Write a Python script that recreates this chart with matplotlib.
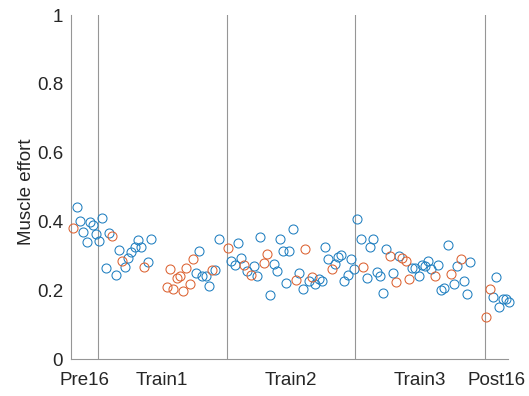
import matplotlib
matplotlib.use("Agg")
import matplotlib.pyplot as plt

# session names and boundaries (x in trial position units)
sessions = ["Pre16", "Train1", "Train2", "Train3", "Post16"]
bounds = [0, 26.7, 156, 284.5, 414.3, 437]

# blue series
blue_x = [5.7, 9, 12.3, 15.7, 19, 21.7, 25,
          28.3, 31.3, 35, 38, 44.7, 47.7, 54.3, 57.3, 60.3, 63.7, 67, 70, 76.7, 79.7,
          125, 128.3, 131, 134.7, 138, 144.3, 147.7,
          160.5, 163.7, 166.7, 170.3, 176.3, 183, 186.3, 189.3, 199, 202.7, 205.7, 209,
          212, 215.3, 218.3, 221.7, 228.3, 231.7, 238, 244.3, 247.7, 251, 254, 257.3,
          264, 267, 270.3, 273.3, 276.7, 280, 283,
          286.3, 289.7, 296, 299.3, 302.3, 305.7, 309, 312, 315.3, 321.7, 328.3, 341,
          344.3, 347.7, 350.7, 354, 357.3, 360.3, 367, 370.3, 373.3, 376.7, 383, 386.3,
          392.7, 396, 399.3,
          422, 425, 428.3, 431.7, 435, 438.3]
blue_y = [0.441, 0.402, 0.370, 0.339, 0.398, 0.390, 0.363,
          0.344, 0.410, 0.265, 0.367, 0.245, 0.318, 0.267, 0.294, 0.310, 0.325, 0.346, 0.325, 0.283, 0.349,
          0.251, 0.313, 0.240, 0.240, 0.213, 0.258, 0.349,
          0.286, 0.272, 0.338, 0.293, 0.256, 0.270, 0.240, 0.356, 0.185, 0.275, 0.257, 0.348,
          0.315, 0.220, 0.314, 0.379, 0.251, 0.203, 0.227, 0.219, 0.233, 0.228, 0.325, 0.292,
          0.276, 0.296, 0.303, 0.228, 0.243, 0.292, 0.262,
          0.406, 0.348, 0.235, 0.327, 0.349, 0.254, 0.240, 0.193, 0.320, 0.250, 0.299, 0.264,
          0.264, 0.240, 0.272, 0.271, 0.284, 0.261, 0.273, 0.201, 0.207, 0.332, 0.219, 0.271,
          0.228, 0.188, 0.282,
          0.181, 0.239, 0.152, 0.174, 0.175, 0.166]

# orange series
orange_x = [2.3, 41.3, 50.7, 73.3,
            95.7, 99, 102.3, 105.7, 109, 112, 115.3, 118.7, 121.7, 141,
            157.3, 173, 179.7, 192.7, 196, 225, 234.3, 241.3, 260.7,
            292.5, 318.7, 325, 331.3, 334.7, 338, 363.7, 380, 389.7,
            415.3, 418.7]
orange_y = [0.381, 0.358, 0.286, 0.268,
            0.209, 0.262, 0.204, 0.235, 0.242, 0.198, 0.265, 0.218, 0.292, 0.258,
            0.322, 0.273, 0.244, 0.278, 0.304, 0.230, 0.321, 0.239, 0.261,
            0.267, 0.299, 0.225, 0.294, 0.284, 0.233, 0.240, 0.248, 0.291,
            0.121, 0.204]

plt.rcParams["font.family"] = ["Liberation Sans", "DejaVu Sans"]
text_color = "#262626"
axis_color = "#969696"

fig = plt.figure(figsize=(5.29, 3.96), dpi=100)
ax = fig.add_axes([0.134, 0.0934, 0.826, 0.8686])

for b in bounds[1:-1]:
    ax.axvline(b, color=axis_color, linewidth=0.8, zorder=1)

ax.plot(blue_x, blue_y, "o", mfc="none", mec="#1f7fc0", ms=6.5, mew=0.75,
        clip_on=False, zorder=3)
ax.plot(orange_x, orange_y, "o", mfc="none", mec="#dc6232", ms=6.5, mew=0.75,
        clip_on=False, zorder=3)

centers = [(bounds[i] + bounds[i + 1]) / 2 for i in range(len(sessions))]
ax.set_xticks(centers)
ax.set_xticklabels(sessions)
ax.set_xlim(bounds[0], bounds[-1])
ax.set_ylim(0, 1)
ax.set_yticks([0, 0.2, 0.4, 0.6, 0.8, 1])
ax.set_yticklabels(["0", "0.2", "0.4", "0.6", "0.8", "1"])
ax.set_ylabel("Muscle effort", fontsize=13.5, color=text_color)
ax.yaxis.set_label_coords(-0.083, 0.485)

ax.tick_params(length=0, labelsize=13.5, labelcolor=text_color)
ax.tick_params(axis="x", pad=9.5)
ax.tick_params(axis="y", pad=5.5)
for side in ["top", "right"]:
    ax.spines[side].set_visible(False)
for side in ["left", "bottom"]:
    ax.spines[side].set_color(axis_color)
    ax.spines[side].set_linewidth(0.8)

fig.savefig("out.png", dpi=100)
